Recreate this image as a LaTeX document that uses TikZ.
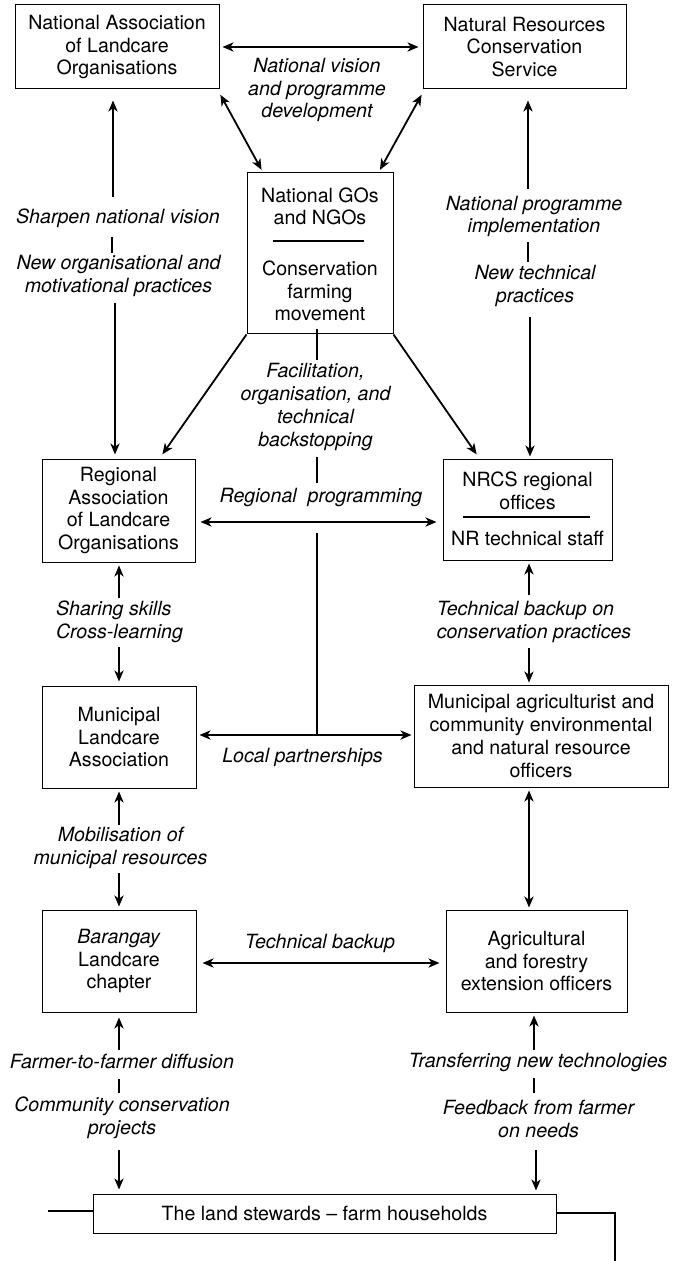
\documentclass[tikz,border=0pt]{standalone}
\usepackage{fontspec}
\setmainfont{TeX Gyre Heros}
\usetikzlibrary{arrows.meta}
\begin{document}
\begin{tikzpicture}[x=0.5pt,y=-0.5pt,
  box/.style={draw, line width=0.5pt, inner sep=0pt, align=center, font=\fontsize{9.8}{11.35}\selectfont},
  txt/.style={inner sep=0pt, align=center, font=\fontsize{9.8}{11.35}\selectfont},
  lab/.style={inner sep=0pt, align=center, font=\fontsize{9.8}{11.35}\selectfont\itshape},
  tipp/.tip={Stealth[length=5.5pt,width=4.6pt,inset=1.6pt]},
  arr/.style={line width=0.9pt, -tipp},
  darr/.style={line width=0.9pt, tipp-tipp},
  tickline/.style={line width=0.8pt},
  thinline/.style={line width=0.6pt}]
\useasboundingbox (0,0) rectangle (676,1261);

% ---------- boxes ----------
\node[box, minimum width=102pt, minimum height=42pt] (nalo) at (117,47) {National Association\\of Landcare\\Organisations};
\node[box, minimum width=101.5pt, minimum height=42pt] (nrcs) at (524.5,47) {Natural Resources\\Conservation\\Service};
\node[box, minimum width=73pt, minimum height=80.5pt] (go) at (320,253.5) {};
\node[txt] (go1) at (320,206.5) {National GOs\\and NGOs};
\node[txt] (go2) at (320,291) {Conservation\\farming\\movement};
\coordinate (gs1) at (273,241);
\coordinate (gs2) at (364,241);
\draw[thinline] (gs1) -- (gs2);

\node[box, minimum width=76.5pt, minimum height=51.5pt] (ralo) at (118.5,510.5) {Regional\\Association\\of Landcare\\Organisations};
\node[box, minimum width=84.5pt, minimum height=50.5pt] (nrcsr) at (527.5,509.5) {};
\node[txt] (nr1) at (527.5,491) {NRCS regional\\offices};
\node[txt] (nr2) at (527.5,538) {NR technical staff};
\coordinate (ns1) at (463,517);
\coordinate (ns2) at (590,517);
\draw[thinline] (ns1) -- (ns2);

\node[box, minimum width=77pt, minimum height=51pt] (mla) at (119,737) {Municipal\\Landcare\\Association};
\node[box, minimum width=127pt, minimum height=51pt] (mag) at (541,736) {Municipal agriculturist and\\community environmental\\and natural resource\\officers};
\node[box, minimum width=77pt, minimum height=51pt] (bar) at (119,961) {\textit{Barangay}\\Landcare\\chapter};
\node[box, minimum width=90.5pt, minimum height=51pt] (agr) at (536.5,961) {Agricultural\\and forestry\\extension officers};
\node[box, minimum width=231.5pt, minimum height=19.5pt] (land) at (324.5,1213.5) {The land stewards -- farm households};

% ---------- labels ----------
\node[lab] (nv) at (317,90) {National vision\\and programme\\development};
\node[lab] (l1) at (118,218) {Sharpen national vision};
\node[lab] (l2) at (118.5,276) {New organisational and\\motivational practices};
\node[lab] (r1) at (534,216.5) {National programme\\implementation};
\node[lab] (r2) at (535,286) {New technical\\practices};
\node[lab] (fac) at (315.5,407) {Facilitation,\\organisation, and\\technical\\backstopping};
\node[lab] (rpl) at (321,497) {Regional\ \ programming};
\node[lab, align=left] (ss) at (119.5,622) {Sharing skills\\Cross-learning};
\node[lab, align=left] (tb) at (534,622) {Technical backup on\\conservation practices};
\node[lab] (lpl) at (302.5,757) {Local partnerships};
\node[lab] (mob) at (120.5,848) {Mobilisation of\\municipal resources};
\node[lab] (tbk) at (320,943) {Technical backup};
\node[lab] (ff) at (122,1061) {Farmer-to-farmer diffusion};
\node[lab] (cc) at (122,1118) {Community conservation\\projects};
\node[lab] (tr) at (538,1062) {Transferring new technologies};
\node[lab] (fb) at (538.5,1119) {Feedback from farmer\\on needs};

% ---------- top connectors ----------
\draw[darr, shorten <=1.5pt, shorten >=2pt] (nalo.east) -- (nrcs.west);
\draw[darr, shorten <=3pt, shorten >=1.5pt] ([xshift=-1pt]nalo.south east) -- ([xshift=8.25pt]go.north west);
\draw[darr, shorten <=3pt, shorten >=1.5pt] ([xshift=1pt]nrcs.south west) -- ([xshift=-7.5pt]go.north east);

% left column
\coordinate (a1) at (113,197);
\draw[arr, shorten >=5.5pt] (a1) -- (nalo.south -| a1);
\coordinate (t1a) at (112,237);
\coordinate (t1b) at (112,253);
\draw[tickline] (t1a) -- (t1b);
\coordinate (a2) at (115,303);
\draw[arr, shorten >=2pt] (a2) -- (ralo.north -| a2);

% right column
\coordinate (b1) at (528,189);
\draw[arr, shorten >=5.5pt] (b1) -- (nrcs.south -| b1);
\coordinate (t2a) at (528,242);
\coordinate (t2b) at (528,262);
\draw[tickline] (t2a) -- (t2b);
\coordinate (b2) at (530,317);
\draw[arr, shorten >=1pt] (b2) -- (nrcsr.north -| b2);

% diagonals from GO box
\draw[arr, shorten >=2.5pt] (go.south west) -- ([xshift=20.5pt]ralo.north);
\draw[arr, shorten >=2.5pt] (go.south east) -- ([xshift=-24pt]nrcsr.north);

% centre line
\coordinate (c1) at (317,329);
\coordinate (c2) at (317,360);
\draw[thinline] (c1) -- (c2);
\coordinate (c3) at (317,457);
\coordinate (c4) at (317,483);
\draw[thinline] (c3) -- (c4);
\coordinate (c5) at (317,533);
\coordinate (lp) at (317,735);
\draw[thinline] (c5) -- (lp);

% regional programming
\coordinate (rp) at (317,522);
\draw[darr, shorten <=2.5pt, shorten >=3pt] (ralo.east |- rp) -- (nrcsr.west |- rp);

% sharing skills
\coordinate (d1) at (119,598);
\draw[arr, shorten >=1.5pt] (d1) -- (ralo.south -| d1);
\coordinate (d2) at (119,647);
\draw[arr, shorten >=2pt] (d2) -- (mla.north -| d2);

% technical backup on conservation practices
\coordinate (e1) at (529,595);
\draw[arr, shorten >=1.5pt] (e1) -- (nrcsr.south -| e1);
\coordinate (e2) at (529,648);
\draw[arr, shorten >=1pt] (e2) -- (mag.north -| e2);

% local partnerships
\draw[darr, shorten <=1.5pt, shorten >=1pt] (mla.east |- lp) -- (mag.west |- lp);

% mobilisation
\coordinate (f1) at (119,825);
\draw[arr, shorten >=1.5pt] (f1) -- (mla.south -| f1);
\coordinate (f2) at (119,873);
\draw[arr, shorten >=1.5pt] (f2) -- (bar.north -| f2);

% municipal agriculturist <-> agricultural
\coordinate (g1) at (529,850);
\draw[darr, shorten <=1.5pt, shorten >=1pt] (mag.south -| g1) -- (agr.north -| g1);

% technical backup
\coordinate (tbc) at (320,963);
\draw[darr, shorten <=3pt, shorten >=3pt] (bar.east |- tbc) -- (agr.west |- tbc);

% farmer-to-farmer
\coordinate (h1) at (119,1050);
\draw[arr, shorten >=2.5pt] (h1) -- (bar.south -| h1);
\coordinate (t3a) at (119,1079);
\coordinate (t3b) at (119,1093);
\draw[tickline] (t3a) -- (t3b);
\coordinate (h2) at (119,1150);
\draw[arr, shorten >=2pt] (h2) -- (land.north -| h2);

% transferring
\coordinate (k1) at (534,1050);
\draw[arr, shorten >=1.5pt] (k1) -- (agr.south -| k1);
\coordinate (t4a) at (534,1078);
\coordinate (t4b) at (534,1093);
\draw[tickline] (t4a) -- (t4b);
\coordinate (k2) at (536,1150);
\draw[arr, shorten >=1.5pt] (k2) -- (land.north -| k2);

% land stewards stubs
\coordinate (st1) at (48,1211);
\draw[thinline] (land.west |- st1) -- (st1);
\coordinate (st2) at (615,1261);
\coordinate (st3) at (556,1213);
\draw[thinline] (land.east |- st3) -| (st2);
\end{tikzpicture}
\end{document}
